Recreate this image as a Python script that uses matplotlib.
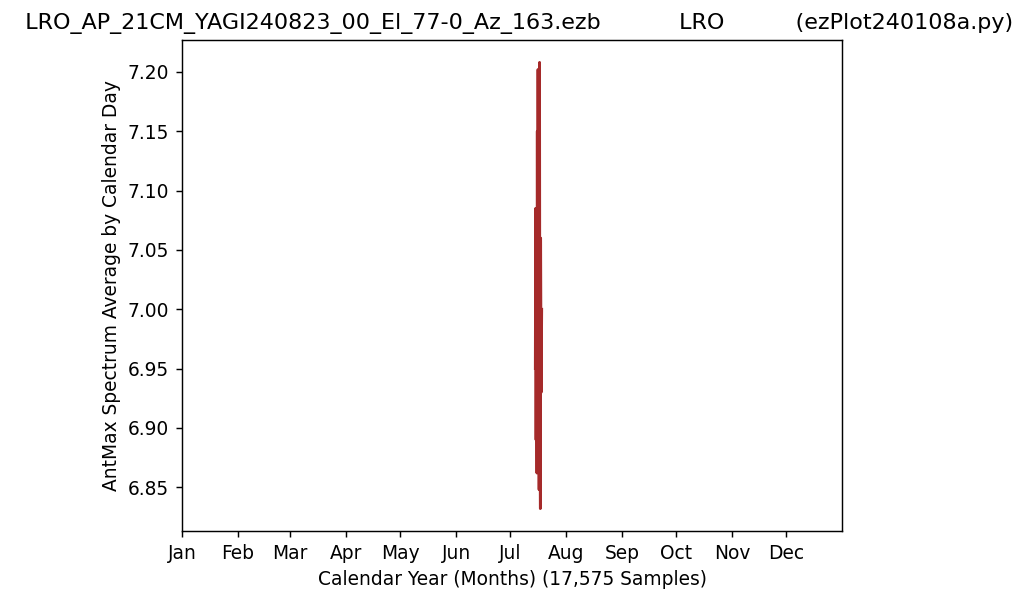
import matplotlib
matplotlib.use('Agg')
import matplotlib.pyplot as plt

# day of year (fractional) and the daily AntMax average
day_of_year = [195.9, 196.1, 196.3, 196.5, 196.8, 197.0, 197.2, 197.4, 197.6,
               197.8, 198.0, 198.2, 198.3, 198.5, 198.7, 198.9, 199.2, 199.5]
ant_max = [6.95, 7.085, 6.89, 7.05, 6.862, 7.15, 6.88, 7.202, 6.95,
           7.10, 6.848, 7.12, 7.208, 6.90, 6.832, 7.06, 6.93, 7.00]

month_names = ['Jan', 'Feb', 'Mar', 'Apr', 'May', 'Jun',
               'Jul', 'Aug', 'Sep', 'Oct', 'Nov', 'Dec']
month_starts = [0, 31, 60, 91, 121, 152, 182, 213, 244, 274, 305, 335]

sample_count = 17575
file_name = 'LRO_AP_21CM_YAGI240823_00_El_77-0_Az_163.ezb'

plt.rcParams['font.size'] = 10.3
plt.rcParams['axes.titlesize'] = 12.35

fig = plt.figure(figsize=(1024 / 130, 603 / 130), dpi=130)
ax = fig.add_axes([182 / 1024, 1 - 531 / 603, 660 / 1024, 491 / 603])

ax.plot(day_of_year, ant_max, color='brown', linewidth=1.5)

ax.set_xlim(0, 366)
ax.set_xticks(month_starts)
ax.set_xticklabels(month_names)
ax.set_xlabel(f'Calendar Year (Months) ({sample_count:,} Samples)')
ax.set_ylabel('AntMax Spectrum Average by Calendar Day')
ax.set_title('  ' + file_name + ' ' * 11 + 'LRO' + ' ' * 10 + '(ezPlot240108a.py)')

fig.savefig('out.png', dpi=130)
